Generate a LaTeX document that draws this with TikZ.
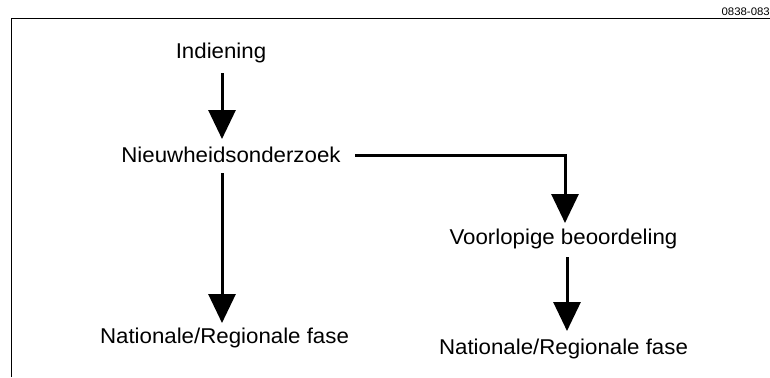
\documentclass[tikz,border=0pt]{standalone}
\usepackage{fontspec}
\setmainfont{Liberation Sans}[FakeStretch=1.04]
\usetikzlibrary{arrows.meta}
\begin{document}
\begin{tikzpicture}[x=1bp,y=-1bp,
  lbl/.style={font=\fontsize{21.5}{24}\selectfont, inner sep=0pt, anchor=base},
  arr/.style={line width=3bp, -{Triangle[width=27bp,length=29bp]}},
  frame/.style={line width=1bp}]
\useasboundingbox (0,0) rectangle (770,377);
\draw[frame] (11,377) -- (11,18) -- (770,18);
\node[font=\fontsize{11}{13}\selectfont, anchor=base east, inner sep=0pt] (code) at (770,15) {0838-083};
\node[lbl] (ind) at (221,58) {Indiening};
\node[lbl] (nw) at (231,162) {Nieuwheidsonderzoek};
\node[lbl] (vb) at (563.5,244) {Voorlopige beoordeling};
\node[lbl] (nr1) at (224.5,343) {Nationale/Regionale fase};
\node[lbl] (nr2) at (563.5,354) {Nationale/Regionale fase};
\coordinate (a1s) at (222,73);
\coordinate (a1e) at (222,139);
\coordinate (a2s) at (222,173);
\coordinate (a2e) at (222,323);
\coordinate (a3s) at (355,155);
\coordinate (a3c) at (565,155);
\coordinate (a3e) at (565,223);
\coordinate (a4s) at (567,257);
\coordinate (a4e) at (567,331);
\draw[arr] (a1s) -- (a1e);
\draw[arr] (a2s) -- (a2e);
\draw[arr] (a3s) -- (a3c) -- (a3e);
\draw[arr] (a4s) -- (a4e);
\end{tikzpicture}
\end{document}
